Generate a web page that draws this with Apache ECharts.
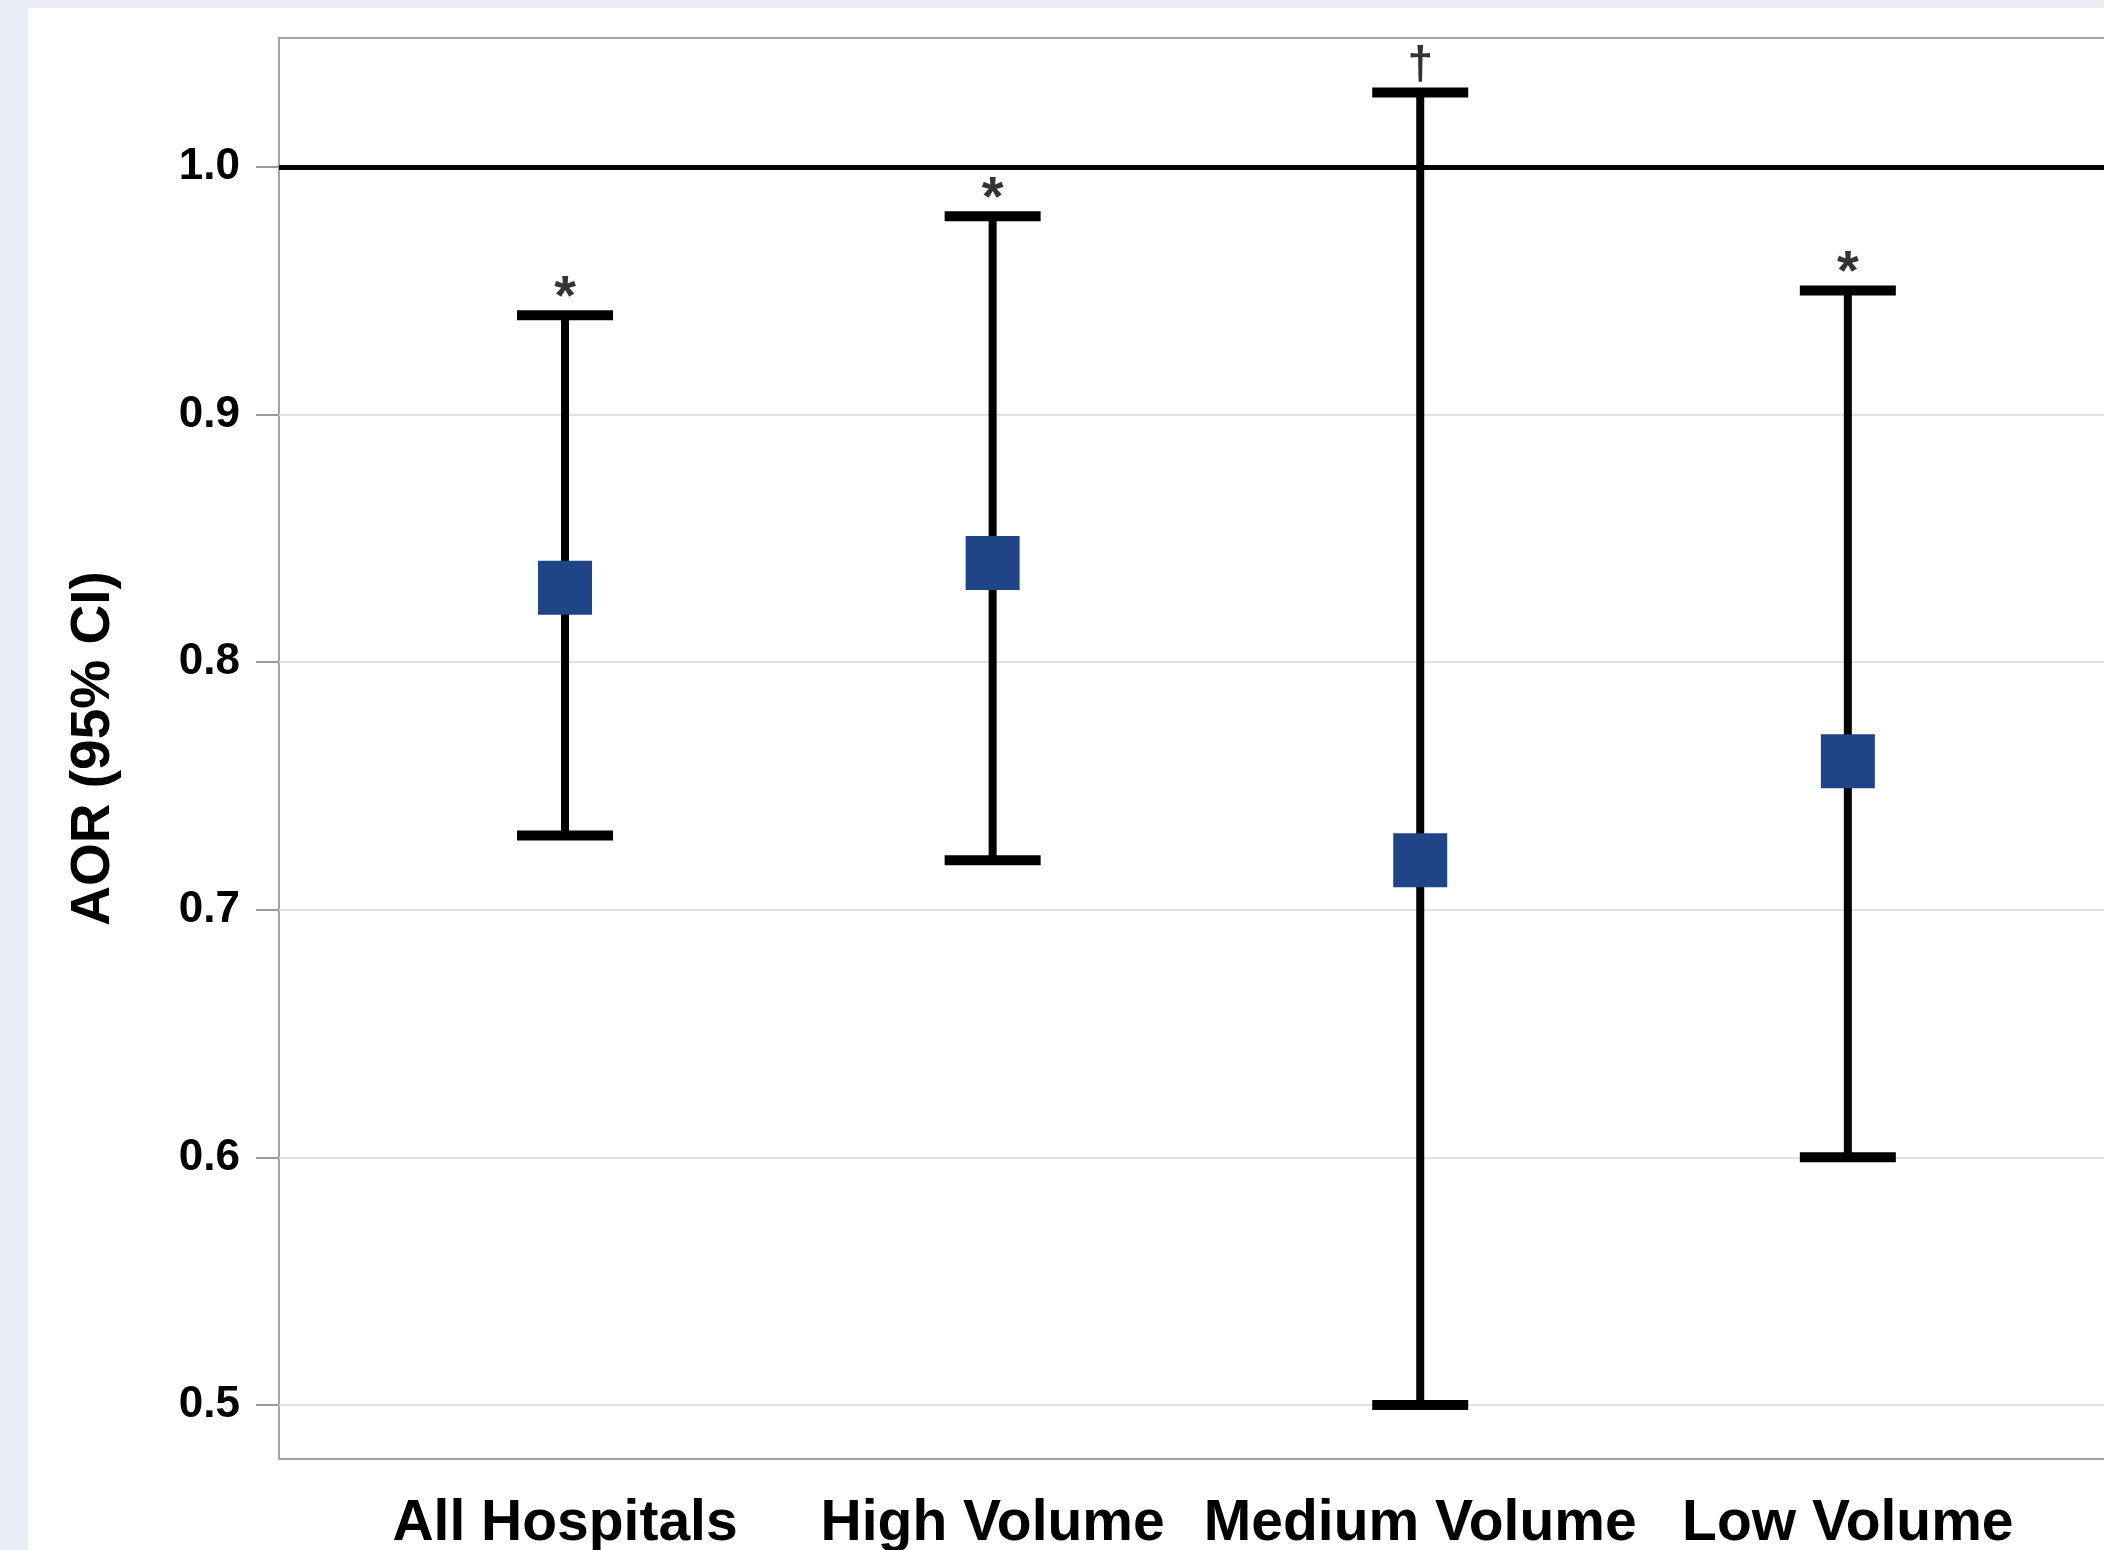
<!DOCTYPE html>
<html>
<head>
<meta charset="utf-8">
<script src="https://cdn.jsdelivr.net/npm/echarts@6/dist/echarts.min.js"></script>
<style>
  html, body { margin: 0; padding: 0; background: #e9eef6; width: 2104px; height: 1550px; overflow: hidden; }
  #chart { position: absolute; left: 28px; top: 8px; width: 2076px; height: 1542px; background: #ffffff; }
</style>
</head>
<body>
<div id="chart"></div>
<script>
// ---- data ----
const categories = ['All Hospitals', 'High Volume', 'Medium Volume', 'Low Volume'];
const estimates = [0.83, 0.84, 0.72, 0.76];
const lowerCI = [0.73, 0.72, 0.50, 0.60];
const upperCI = [0.94, 0.98, 1.03, 0.95];
const annotations = ['*', '*', '\u2020', '*'];
const yTicks = [0.5, 0.6, 0.7, 0.8, 0.9, 1.0];
const refLine = 1.0;
const yAxisTitle = 'AOR (95% CI)';

const FONT = '"Liberation Sans", Arial, Helvetica, sans-serif';
const positions = categories.map((c, i) => i + 1);

const chart = echarts.init(document.getElementById('chart'), null, { renderer: 'canvas' });

const option = {
  backgroundColor: '#ffffff',
  animation: false,
  grid: {
    left: 251, top: 30, width: 1901, height: 1421,
    outerBoundsMode: 'none',
    containLabel: false,
    show: true, borderColor: '#a3a3a3', borderWidth: 2, backgroundColor: '#ffffff'
  },
  xAxis: {
    type: 'value',
    min: 0.3311, max: 4.7768,
    axisLine: { show: false },
    axisTick: { show: false },
    splitLine: { show: false },
    axisLabel: {
      customValues: positions,
      formatter: v => categories[Math.round(v) - 1] || '',
      fontFamily: FONT, fontSize: 57, fontWeight: 'bold', color: '#000', margin: 37
    }
  },
  yAxis: {
    type: 'value',
    min: 0.4782, max: 1.052,
    name: yAxisTitle,
    nameLocation: 'middle',
    nameGap: 158,
    nameTextStyle: { fontFamily: FONT, fontSize: 55, fontWeight: 'bold', color: '#000' },
    axisLine: { show: false },
    axisTick: { show: true, length: 23, customValues: yTicks, lineStyle: { color: '#9a9a9a', width: 2 } },
    axisLabel: {
      customValues: yTicks,
      formatter: v => v.toFixed(1),
      fontFamily: FONT, fontSize: 44, fontWeight: 'bold', color: '#000', margin: 39
    },
    splitLine: { show: true, lineStyle: { color: '#e2e2e2', width: 2 } }
  },
  series: [
    {
      type: 'custom',
      z: 3,
      renderItem: function (params, api) {
        const x = api.value(0);
        const pLo = api.coord([x, api.value(1)]);
        const pHi = api.coord([x, api.value(2)]);
        const half = 48;
        const st = { stroke: '#000', lineWidth: 8 };
        const cap = { stroke: '#000', lineWidth: 10 };
        return {
          type: 'group',
          children: [
            { type: 'line', shape: { x1: pLo[0], y1: pLo[1], x2: pHi[0], y2: pHi[1] }, style: st },
            { type: 'line', shape: { x1: pHi[0] - half, y1: pHi[1], x2: pHi[0] + half, y2: pHi[1] }, style: cap },
            { type: 'line', shape: { x1: pLo[0] - half, y1: pLo[1], x2: pLo[0] + half, y2: pLo[1] }, style: cap }
          ]
        };
      },
      encode: { x: 0, y: [1, 2] },
      data: positions.map((p, i) => [p, lowerCI[i], upperCI[i]])
    },
    {
      type: 'scatter',
      z: 5,
      symbol: 'rect',
      symbolSize: 54,
      itemStyle: { color: '#1f4586', opacity: 1 },
      data: positions.map((p, i) => [p, estimates[i]]),
      markLine: {
        silent: true,
        symbol: 'none',
        z: 2,
        label: { show: false },
        lineStyle: { color: '#000', width: 5, type: 'solid', opacity: 1 },
        data: [{ yAxis: refLine }]
      }
    },
    {
      type: 'scatter',
      z: 6,
      symbolSize: 0,
      silent: true,
      data: positions.map((p, i) => ({
        value: [p, upperCI[i]],
        label: annotations[i] === '*'
          ? { show: true, position: 'top', distance: -11, formatter: annotations[i], fontFamily: FONT, fontSize: 56, fontWeight: 'bold', color: '#000' }
          : { show: true, position: 'top', distance: 3, formatter: annotations[i], fontFamily: FONT, fontSize: 46, fontWeight: 'bold', color: '#000' }
      }))
    }
  ]
};

chart.setOption(option);
</script>
</body>
</html>
